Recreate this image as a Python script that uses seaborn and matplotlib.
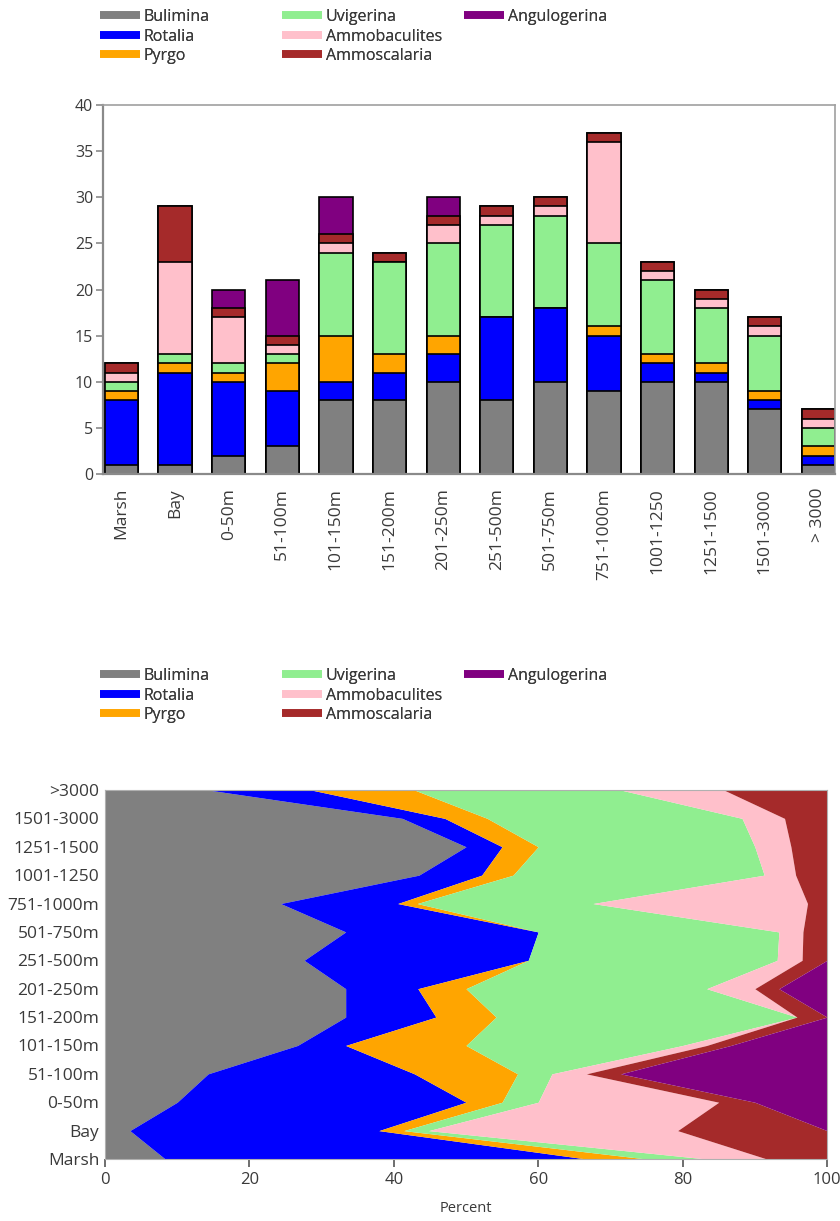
import numpy as np
import pandas as pd
import matplotlib
matplotlib.use("Agg")
import matplotlib.pyplot as plt
from matplotlib.lines import Line2D
import seaborn as sns

# Depth zones, shallow to deep
zones = ["Marsh", "Bay", "0-50m", "51-100m", "101-150m", "151-200m", "201-250m",
         "251-500m", "501-750m", "751-1000m", "1001-1250", "1251-1500", "1501-3000", ">3000"]
bar_labels = zones[:-1] + ["> 3000"]

# Specimen counts per genus in each zone
bulimina      = [1, 1, 2, 3, 8, 8, 10, 8, 10, 9, 10, 10, 7, 1]
rotalia       = [7, 10, 8, 6, 2, 3, 3, 9, 8, 6, 2, 1, 1, 1]
pyrgo         = [1, 1, 1, 3, 5, 2, 2, 0, 0, 1, 1, 1, 1, 1]
uvigerina     = [1, 1, 1, 1, 9, 10, 10, 10, 10, 9, 8, 6, 6, 2]
ammobaculites = [1, 10, 5, 1, 1, 0, 2, 1, 1, 11, 1, 1, 1, 1]
ammoscalaria  = [1, 6, 1, 1, 1, 1, 1, 1, 1, 1, 1, 1, 1, 1]
angulogerina  = [0, 0, 2, 6, 4, 0, 2, 0, 0, 0, 0, 0, 0, 0]

genera = ["Bulimina", "Rotalia", "Pyrgo", "Uvigerina", "Ammobaculites", "Ammoscalaria", "Angulogerina"]
colors = ["#808080", "#0000FF", "#FFA500", "#90EE90", "#FFC0CB", "#A52A2A", "#800080"]

counts = pd.DataFrame(
    {"Bulimina": bulimina, "Rotalia": rotalia, "Pyrgo": pyrgo, "Uvigerina": uvigerina,
     "Ammobaculites": ammobaculites, "Ammoscalaria": ammoscalaria, "Angulogerina": angulogerina},
    index=zones,
)
cum = counts.cumsum(axis=1)
pct = counts.div(counts.sum(axis=1), axis=0) * 100
pct_cum = pct.cumsum(axis=1)

sns.set_theme(style="ticks")
plt.rcParams["font.family"] = ["Open Sans", "DejaVu Sans"]
TXT = "#3a3a3a"
SPINE = "#8a8a8a"

W, H = 840, 1221
fig = plt.figure(figsize=(W / 100, H / 100), dpi=100)


def fig_rect(x0, y0, x1, y1):
    return [x0 / W, 1 - y1 / H, (x1 - x0) / W, (y1 - y0) / H]


def add_legend(top_px):
    cols = [(100, genera[0:3], colors[0:3]),
            (282, genera[3:6], colors[3:6]),
            (464, genera[6:7], colors[6:7])]
    for x_px, names, cs in cols:
        handles = [Line2D([], [], color=c, lw=5.5, solid_capstyle="butt") for c in cs]
        leg = fig.legend(handles, names, loc="upper left",
                         bbox_to_anchor=(x_px / W, 1 - top_px / H),
                         frameon=False, fontsize=11.5, handlelength=2.5,
                         handletextpad=0.25, labelspacing=0.22,
                         borderpad=0, borderaxespad=0, labelcolor=TXT)
        fig.add_artist(leg)


# ---- stacked counts (vertical bars) ----
ax1 = fig.add_axes(fig_rect(103, 105, 835, 474))
bar_df = cum.reset_index().rename(columns={"index": "zone"})
for name, c in reversed(list(zip(genera, colors))):
    sns.barplot(data=bar_df, x="zone", y=name, order=zones, color=c, saturation=1,
                edgecolor="black", linewidth=1.2, width=0.62, errorbar=None, ax=ax1)
ax1.set_xlim(-0.345, len(zones) - 1 + 0.31)
ax1.set_ylim(0, 40)
ax1.set_yticks(np.arange(0, 41, 5))
ax1.set_xticks(range(len(zones)))
ax1.set_xticklabels(bar_labels, rotation=90)
ax1.set_xlabel("")
ax1.set_ylabel("")
ax1.tick_params(axis="y", length=5, width=1.2, color=SPINE, labelsize=11.5, labelcolor=TXT, pad=2)
ax1.tick_params(axis="x", length=0, labelsize=12.5, labelcolor=TXT, pad=10)
for side, sp in ax1.spines.items():
    sp.set_visible(True)
    sp.set_color(SPINE if side in ("left", "bottom") else "#a0a0a0")
    sp.set_linewidth(1.6 if side in ("left", "bottom") else 1.2)
add_legend(9)

# ---- percent composition (horizontal stacked areas) ----
ax2 = fig.add_axes(fig_rect(105, 790, 827, 1159))
ypos = np.arange(len(zones))
left = np.zeros(len(zones))
for name, c in zip(genera, colors):
    right = pct_cum[name].to_numpy()
    ax2.fill_betweenx(ypos, left, right, color=c, lw=0)
    left = right
ax2.set_xlim(0, 100)
ax2.set_ylim(0, len(zones) - 1)
ax2.set_yticks(ypos)
ax2.set_yticklabels(zones)
ax2.set_xticks(np.arange(0, 101, 20))
ax2.set_xlabel("Percent", fontsize=10.5, color=TXT, labelpad=10)
ax2.tick_params(axis="x", length=6, width=1.2, color="#555555", labelsize=12, labelcolor=TXT, pad=3)
ax2.tick_params(axis="y", length=0, labelsize=12.5, labelcolor=TXT, pad=4)
for side, sp in ax2.spines.items():
    sp.set_visible(True)
    sp.set_color("#b0b0b0")
    sp.set_linewidth(0.8)
add_legend(668)

fig.savefig("out.png", dpi=100)
